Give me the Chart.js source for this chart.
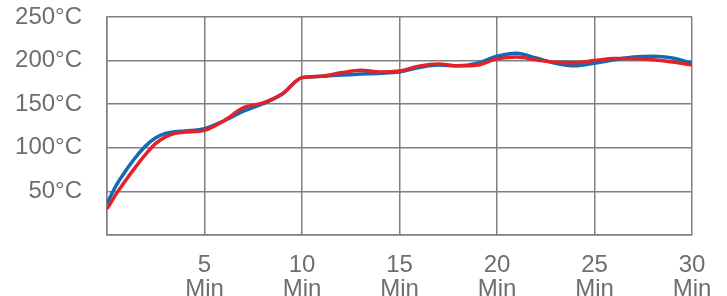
<!DOCTYPE html>
<html>
<head>
<meta charset="utf-8">
<script src="https://cdn.jsdelivr.net/npm/chart.js@4/dist/chart.umd.min.js"></script>
<style>
  html, body { margin: 0; padding: 0; background: #ffffff; }
  #wrap { width: 727px; height: 296px; position: relative; }
</style>
</head>
<body>
<div id="wrap"><canvas id="c" width="727" height="296"></canvas></div>
<script>
const minutes = [0, 0.5, 1, 1.5, 2, 2.5, 3, 3.5, 4, 5, 6, 7, 8, 9, 10, 11, 12, 13, 14, 15, 16, 17, 18, 19, 20, 21, 22, 23, 24, 25, 26, 27, 28, 29, 30];
const blueTemps = [36, 58, 75, 90, 102.5, 111.5, 116.5, 118.3, 119.3, 122, 131, 142, 150.5, 162, 180.5, 182, 183.5, 184.5, 185.5, 187, 192, 195, 194, 197, 205, 208.5, 203, 197, 194, 197, 201, 204, 205, 203, 197];
const redTemps  = [30, 48, 64, 79, 93, 105, 112.5, 116.5, 118, 120, 131, 146, 151.5, 162, 180.5, 182, 186, 189, 187, 188, 193.5, 196, 194, 195, 202, 204, 201, 198, 197.5, 200, 202.5, 202.5, 201, 198.5, 195];
const xTicks = [5, 10, 15, 20, 25, 30];
const yTicks = [50, 100, 150, 200, 250];

const toPts = (arr) => minutes.map((m, i) => ({ x: m, y: arr[i] }));

const fontSpec = { family: "'Liberation Sans', Arial, sans-serif", size: 24, lineHeight: 1.0 };
const gridColor = '#808080';
const textColor = '#6e6e6e';

new Chart(document.getElementById('c'), {
  type: 'line',
  data: {
    datasets: [
      { label: 'Red', data: toPts(redTemps), borderColor: '#e4202a', borderWidth: 3.5, pointRadius: 0, cubicInterpolationMode: 'monotone', fill: false },
      { label: 'Blue', data: toPts(blueTemps), borderColor: '#0d6cb5', borderWidth: 3.5, pointRadius: 0, cubicInterpolationMode: 'monotone', fill: false }
    ]
  },
  options: {
    responsive: false,
    animation: false,
    devicePixelRatio: 1,
    layout: { padding: { top: 17, right: 35, left: 0, bottom: 0 } },
    plugins: { legend: { display: false }, tooltip: { enabled: false } },
    scales: {
      x: {
        type: 'linear',
        min: 0, max: 30,
        afterBuildTicks: (s) => { s.ticks = [0].concat(xTicks).map(v => ({ value: v })); },
        afterFit: (s) => { s.height = 61; s.paddingLeft = 0; s.paddingRight = 0; },
        grid: { color: gridColor, lineWidth: 1.5, drawTicks: false },
        border: { color: gridColor, width: 1.5 },
        ticks: {
          color: textColor,
          font: fontSpec,
          padding: 18,
          maxRotation: 0,
          autoSkip: false,
          callback: (v) => xTicks.includes(v) ? [String(v), 'Min'] : ''
        }
      },
      y: {
        min: 0, max: 250,
        afterBuildTicks: (s) => { s.ticks = [0].concat(yTicks).map(v => ({ value: v })); },
        afterFit: (s) => { s.width = 107; s.paddingTop = 0; s.paddingBottom = 0; },
        grid: { color: gridColor, lineWidth: 1.5, drawTicks: false },
        border: { color: gridColor, width: 1.5 },
        ticks: {
          color: textColor,
          font: fontSpec,
          padding: 25,
          autoSkip: false,
          callback: (v) => yTicks.includes(v) ? v + '°C' : ''
        }
      }
    }
  }
});
</script>
</body>
</html>
